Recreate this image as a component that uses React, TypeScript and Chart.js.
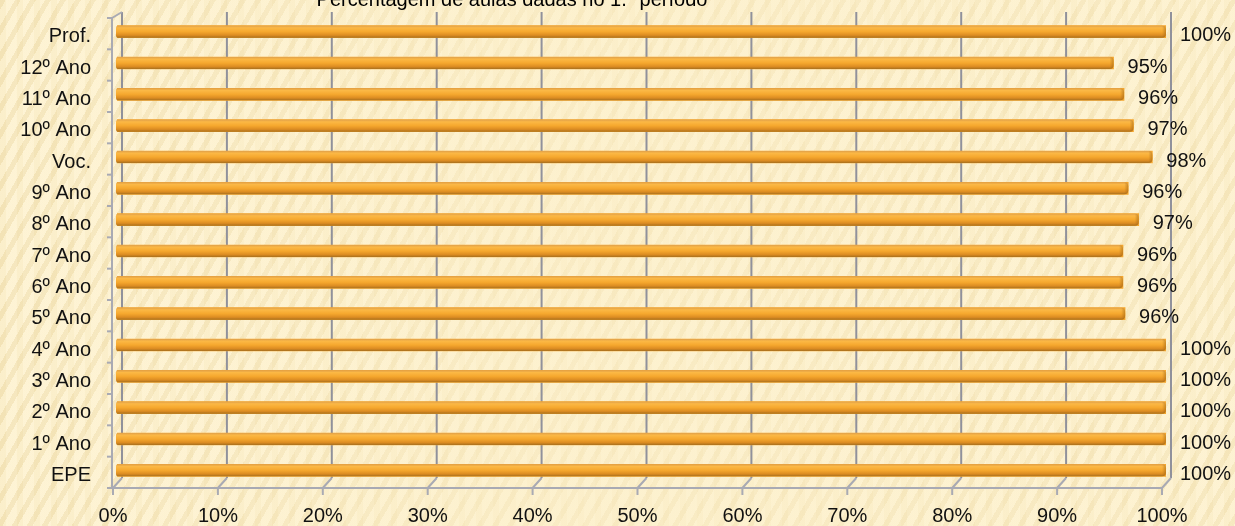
import React, { useEffect, useRef } from "react";
import { Chart, registerables } from "chart.js";

Chart.register(...registerables);

const TITLE = "Percentagem de aulas dadas no 1.º período";
const CATEGORIES = [
  "Prof.",
  "12º Ano",
  "11º Ano",
  "10º Ano",
  "Voc.",
  "9º Ano",
  "8º Ano",
  "7º Ano",
  "6º Ano",
  "5º Ano",
  "4º Ano",
  "3º Ano",
  "2º Ano",
  "1º Ano",
  "EPE",
];
const VALUES = [100, 95, 96, 96.9, 98.7, 96.4, 97.4, 95.9, 95.9, 96.1, 100, 100, 100, 100, 100];
const VALUE_LABELS = [
  "100%", "95%", "96%", "97%", "98%", "96%", "97%", "96%", "96%", "96%",
  "100%", "100%", "100%", "100%", "100%",
];
const X_MIN = 0;
const X_MAX = 100;
const X_STEP = 10;

const FONT = '"Liberation Sans", Arial, sans-serif';

const framePlugin = {
  id: "frame3d",
  beforeDatasetsDraw(chart: any) {
    const { ctx, chartArea } = chart;
    const { left: L, top: T, bottom: B } = chartArea;
    const xs = chart.scales.x;
    const ys = chart.scales.y;
    ctx.save();
    ctx.lineCap = "butt";
    xs.ticks.forEach((t: any) => {
      const px = xs.getPixelForValue(t.value);
      ctx.strokeStyle = "#90919b";
      ctx.lineWidth = 2;
      ctx.beginPath();
      ctx.moveTo(px + 5, T - 4);
      ctx.lineTo(px + 5, B - 8);
      ctx.stroke();
      ctx.strokeStyle = "#a9aab3";
      ctx.beginPath();
      ctx.moveTo(px + 5, B - 8);
      ctx.lineTo(px - 4, B + 2);
      ctx.lineTo(px - 4, B + 9);
      ctx.stroke();
    });
    ctx.strokeStyle = "#a9aab3";
    ctx.lineWidth = 2;
    ctx.beginPath();
    ctx.moveTo(L - 5, B + 2);
    ctx.lineTo(xs.getPixelForValue(X_MAX) - 4, B + 2);
    ctx.stroke();
    ctx.beginPath();
    ctx.moveTo(L - 5, T + 2);
    ctx.lineTo(L - 5, B + 2);
    ctx.stroke();
    ctx.beginPath();
    ctx.moveTo(L - 5, T + 2);
    ctx.lineTo(L + 5, T - 4);
    ctx.stroke();
    const band = ys.getPixelForValue(1) - ys.getPixelForValue(0);
    for (let k = 0; k <= CATEGORIES.length; k++) {
      const yy = ys.getPixelForValue(k) - band / 2 + 2;
      ctx.beginPath();
      ctx.moveTo(L - 10, yy);
      ctx.lineTo(L - 5, yy);
      ctx.stroke();
    }
    ctx.restore();
  },
};

const barStylePlugin = {
  id: "barStyle",
  afterDatasetsDraw(chart: any) {
    const { ctx } = chart;
    const meta = chart.getDatasetMeta(0);
    ctx.save();
    meta.data.forEach((el: any, i: number) => {
      const { x, y, base, height } = el.getProps(["x", "y", "base", "height"], true);
      const l = Math.min(x, base) - 1;
      const r = Math.max(x, base);
      const top = y - height / 2;
      const bot = y + height / 2;
      const g = ctx.createLinearGradient(0, top, 0, bot);
      g.addColorStop(0, "#e0a04a");
      g.addColorStop(0.18, "#fbb845");
      g.addColorStop(0.5, "#f6a82e");
      g.addColorStop(0.8, "#dc8c22");
      g.addColorStop(1, "#a8701e");
      ctx.fillStyle = g;
      ctx.beginPath();
      ctx.roundRect(l, top, r - l, bot - top, [2, 4, 4, 2]);
      ctx.fill();
      const cg = ctx.createLinearGradient(r - 4, 0, r, 0);
      cg.addColorStop(0, "rgba(160,100,20,0)");
      cg.addColorStop(1, "rgba(160,100,20,0.55)");
      ctx.fillStyle = cg;
      ctx.beginPath();
      ctx.roundRect(r - 4, top, 4, bot - top, [0, 4, 4, 0]);
      ctx.fill();
      ctx.fillStyle = "#111";
      ctx.font = `20px ${FONT}`;
      ctx.textAlign = "left";
      ctx.textBaseline = "middle";
      ctx.fillText(VALUE_LABELS[i], r + 14, y + 4);
    });
    ctx.restore();
  },
};

const titlePlugin = {
  id: "cutTitle",
  afterDraw(chart: any) {
    const { ctx } = chart;
    ctx.save();
    ctx.fillStyle = "#000";
    ctx.font = `20px ${FONT}`;
    ctx.textAlign = "center";
    ctx.textBaseline = "alphabetic";
    ctx.fillText(TITLE, 512, 6);
    ctx.restore();
  },
};

export default function App() {
  const ref = useRef<HTMLCanvasElement | null>(null);

  useEffect(() => {
    document.body.style.margin = "0";
    if (!ref.current) return;
    const chart = new Chart(ref.current, {
      type: "bar",
      data: {
        labels: CATEGORIES,
        datasets: [
          {
            data: VALUES,
            backgroundColor: "#f5a62c",
            borderWidth: 0,
            barThickness: 12,
          },
        ],
      },
      options: {
        indexAxis: "y",
        animation: false,
        responsive: true,
        maintainAspectRatio: false,
        layout: { padding: { top: 16, right: 69, left: 0, bottom: 0 } },
        plugins: {
          legend: { display: false },
          title: { display: false },
          tooltip: { enabled: false },
        },
        scales: {
          x: {
            min: X_MIN,
            max: X_MAX,
            grid: { display: false },
            border: { display: false },
            ticks: {
              stepSize: X_STEP,
              color: "#111",
              font: { size: 20, family: FONT },
              padding: 10,
              labelOffset: -4,
              maxRotation: 0,
              callback: (v: any) => `${v}%`,
            },
            afterFit: (scale: any) => {
              scale.height = 40;
              scale.paddingLeft = 0;
              scale.paddingRight = 0;
            },
          },
          y: {
            type: "category",
            grid: { display: false },
            border: { display: false },
            ticks: {
              color: "#111",
              font: { size: 20, family: FONT },
              padding: 18,
              labelOffset: 5,
            },
            afterFit: (scale: any) => {
              scale.width = 117;
              scale.paddingTop = 0;
              scale.paddingBottom = 0;
            },
          },
        },
      },
      plugins: [framePlugin, barStylePlugin, titlePlugin],
    });
    return () => chart.destroy();
  }, []);

  return (
    <div
      style={{
        position: "absolute",
        left: 0,
        top: 0,
        width: 1235,
        height: 526,
        backgroundColor: "#fcefc9",
        backgroundImage:
          "linear-gradient(90deg, rgba(252,239,201,0) 0%, rgba(252,239,201,0.55) 45%, rgba(252,239,201,0.2) 100%), repeating-linear-gradient(120deg, rgba(232,212,160,0.35) 0px, rgba(232,212,160,0.35) 5px, rgba(255,248,225,0.3) 5px, rgba(255,248,225,0.3) 13px), repeating-linear-gradient(90deg, rgba(240,222,170,0.25) 0px, rgba(240,222,170,0.25) 6px, rgba(255,250,230,0.2) 6px, rgba(255,250,230,0.2) 17px)",
      }}
    >
      <canvas ref={ref} />
    </div>
  );
}
